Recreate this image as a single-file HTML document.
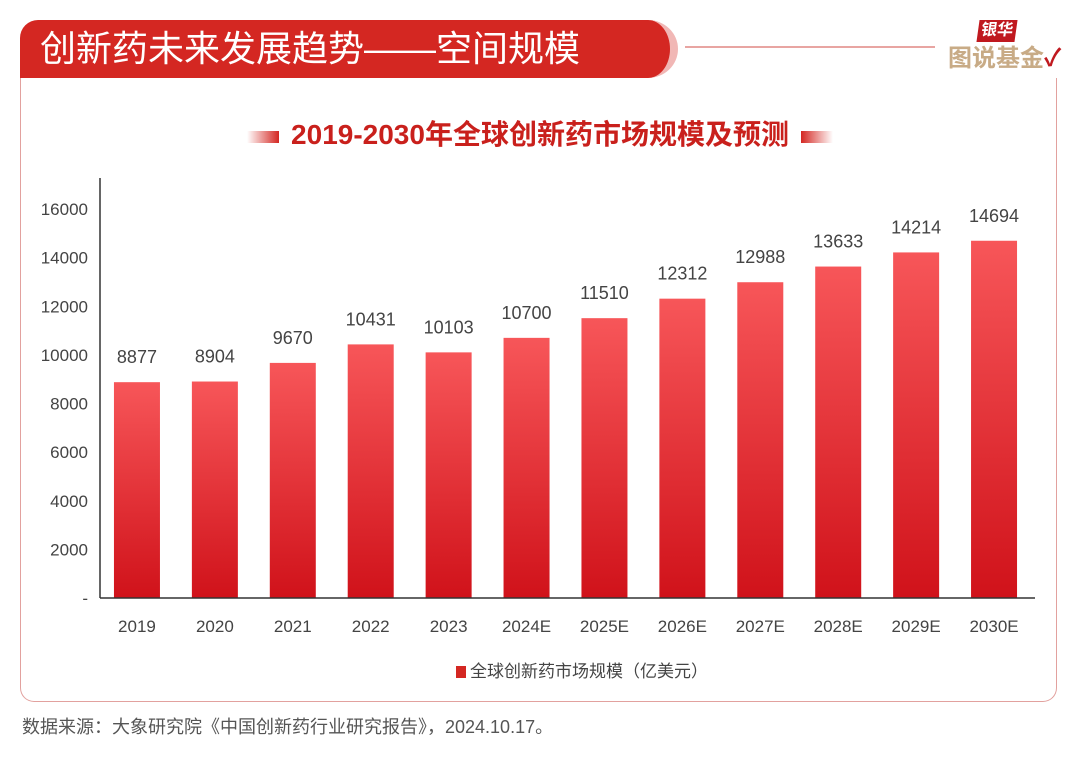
<!DOCTYPE html>
<html><head><meta charset="utf-8"><style>
body{margin:0;width:1080px;height:759px;background:#fff;font-family:"Liberation Sans","Noto Sans CJK SC",sans-serif;position:relative;overflow:hidden}
.abs{position:absolute}
</style></head><body>
<div class="abs" style="left:20px;top:20px;width:650px;height:58px;background:#d42722;border-radius:18px 0 0 0;border-right:8px solid #f1b7b5;border-top-right-radius:30px 29px;border-bottom-right-radius:30px 29px;"></div>
<div class="abs" style="left:40px;top:24px;color:#fff;font-size:36px;line-height:50px;">创新药未来发展趋势——空间规模</div>
<div class="abs" style="left:685px;top:46px;width:250px;height:2px;background:#e8a5a2"></div>
<div class="abs" style="left:978px;top:20px;background:#c0191f;color:#fff;font-size:16px;font-weight:bold;padding:0 3px;line-height:22px;transform:skewX(-8deg)">银华</div>
<div class="abs" style="left:948px;top:44px;color:#c8ab86;font-size:24px;font-weight:bold;line-height:30px">图说基金<span style="color:#c0191f">✓</span></div>
<div class="abs" style="left:20px;top:78px;width:1037px;height:624px;border:1.5px solid #e2a19e;border-top:none;border-radius:0 0 14px 14px;box-sizing:border-box"></div>
<div class="abs" style="left:0;width:1080px;top:114px;text-align:center;font-size:28px;font-weight:bold;color:#c9201c;line-height:42px">
<span style="display:inline-block;width:32px;height:12px;background:linear-gradient(90deg,#fff,#d42722);vertical-align:middle;margin-right:12px"></span>2019-2030年全球创新药市场规模及预测<span style="display:inline-block;width:32px;height:12px;background:linear-gradient(90deg,#d42722,#fff);vertical-align:middle;margin-left:12px"></span></div>
<svg class="abs" style="left:0;top:0" width="1080" height="759" id="chart">
<defs><linearGradient id="g" x1="0" y1="0" x2="0" y2="1"><stop offset="0" stop-color="#f75659"/><stop offset="1" stop-color="#d0121a"/></linearGradient></defs>
</svg>
<div class="abs" style="left:456px;top:660px;font-size:17px;color:#444;line-height:24px"><span style="display:inline-block;width:10px;height:12px;background:#d42722;margin-right:4px;vertical-align:-1px"></span>全球创新药市场规模（亿美元）</div>
<div class="abs" style="left:22px;top:714px;font-size:18px;color:#555;line-height:26px">数据来源：大象研究院《中国创新药行业研究报告》，2024.10.17。</div>
<script>
const categories=["2019","2020","2021","2022","2023","2024E","2025E","2026E","2027E","2028E","2029E","2030E"];
const values=[8877,8904,9670,10431,10103,10700,11510,12312,12988,13633,14214,14694];
const yTicks=[0,2000,4000,6000,8000,10000,12000,14000,16000];
const svg=document.getElementById('chart');const NS='http://www.w3.org/2000/svg';
const x0=100,x1=1035,y0=598,yTop=209,vmax=16000;
const bw=(x1-x0)/categories.length;
const ys=v=>y0-(v/vmax)*(y0-yTop);
function mk(t,a,txt){const e=document.createElementNS(NS,t);for(const k in a)e.setAttribute(k,a[k]);if(txt!==undefined)e.textContent=txt;svg.appendChild(e);return e;}
yTicks.forEach(t=>{const e=mk('text',{x:88,y:ys(t)+6,'text-anchor':'end','font-size':17,fill:'#444','font-family':'Liberation Sans'},t===0?'-':String(t));

});
values.forEach((v,i)=>{const cx=x0+bw*(i+0.5)-2;
const r=mk('rect',{x:cx-23,y:ys(v),width:46,height:y0-ys(v),fill:'url(#g)'});


const l=mk('text',{x:cx,y:ys(v)-19,'text-anchor':'middle','font-size':18,fill:'#444','font-family':'Liberation Sans'},String(v));


const c=mk('text',{x:cx,y:632,'text-anchor':'middle','font-size':17,fill:'#444','font-family':'Liberation Sans'},categories[i]);

});
const ya=mk('line',{x1:x0,y1:178,x2:x0,y2:y0,stroke:'#333','stroke-width':1.5});


const xa=mk('line',{x1:x0,y1:y0,x2:x1,y2:y0,stroke:'#333','stroke-width':1.5});


</script>
</body></html>
